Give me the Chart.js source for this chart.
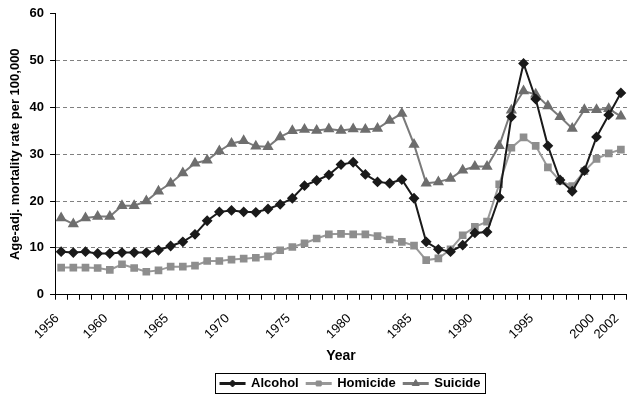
<!DOCTYPE html>
<html>
<head>
<meta charset="utf-8">
<script src="https://cdn.jsdelivr.net/npm/chart.js@4.4.0/dist/chart.umd.min.js"></script>
<style>
  body { margin: 0; background: #fff; }
</style>
</head>
<body>
<canvas id="mortality-chart" width="643" height="404"></canvas>
<script>
/* Data */
let years = [
    '1956', '1957', '1958', '1959', '1960', '1961', '1962', '1963', '1964', '1965',
    '1966', '1967', '1968', '1969', '1970', '1971', '1972', '1973', '1974', '1975',
    '1976', '1977', '1978', '1979', '1980', '1981', '1982', '1983', '1984', '1985',
    '1986', '1987', '1988', '1989', '1990', '1991', '1992', '1993', '1994', '1995',
    '1996', '1997', '1998', '1999', '2000', '2001', '2002'
]

// only these years get a label under the axis
let tickYears = [ '1956', '1960', '1965', '1970', '1975', '1980', '1985', '1990', '1995', '2000', '2002' ]

let alcohol = [
    9.2, 9.0, 9.2, 8.8, 8.8, 9.0, 9.0, 9.0, 9.5, 10.4,
    11.3, 12.9, 15.8, 17.7, 18.0, 17.7, 17.6, 18.3, 19.3, 20.6,
    23.3, 24.4, 25.6, 27.8, 28.3, 25.7, 24.1, 23.8, 24.6, 20.6,
    11.3, 9.7, 9.2, 10.6, 13.2, 13.4, 20.8, 38.0, 49.4, 41.8,
    31.8, 24.5, 22.1, 26.5, 33.7, 38.4, 43.1
]

let homicide = [
    5.8, 5.8, 5.8, 5.7, 5.3, 6.5, 5.7, 4.9, 5.2, 6.0,
    6.0, 6.2, 7.2, 7.2, 7.5, 7.7, 7.9, 8.2, 9.5, 10.2,
    11.0, 12.0, 12.9, 13.0, 12.9, 12.9, 12.5, 11.8, 11.3, 10.5,
    7.4, 7.75, 9.7, 12.7, 14.5, 15.6, 23.6, 31.4, 33.6, 31.8,
    27.2, 24.3, 23.2, 26.4, 29.0, 30.2, 31.0
]

let suicide = [
    16.4, 15.1, 16.4, 16.7, 16.7, 19.0, 19.0, 20.0, 22.1, 23.8,
    26.0, 28.1, 28.7, 30.7, 32.3, 32.9, 31.7, 31.6, 33.7, 35.0,
    35.3, 35.1, 35.4, 35.1, 35.4, 35.3, 35.5, 37.2, 38.7, 32.1,
    23.8, 24.1, 24.8, 26.6, 27.4, 27.4, 31.8, 39.4, 43.5, 42.8,
    40.3, 38.0, 35.5, 39.5, 39.5, 39.7, 38.1
]

let fontFamily = "'Liberation Sans', Arial, sans-serif"

// legend sits under the plot area, not the whole canvas
let legendShift = 29

// moves the legend, draws a marker on each legend line and a box round the legend
let legendExtras = {
    id: 'legendExtras',
    afterLayout(chart) {
        chart.legend.left += legendShift
        chart.legend.right += legendShift
    },
    afterDraw(chart) {
        let ctx = chart.ctx
        let boxes = chart.legend.legendHitBoxes
        if (!boxes || boxes.length == 0) return
        let boxWidth = chart.options.plugins.legend.labels.boxWidth

        boxes.forEach(function(box, i) {
            let ds = chart.data.datasets[i]
            ctx.save()
            ctx.fillStyle = ds.pointBackgroundColor
            ctx.strokeStyle = ds.pointBackgroundColor
            Chart.helpers.drawPoint(ctx, {
                pointStyle: ds.pointStyle,
                radius: ds.pointRadius - 0.5,
                rotation: 0,
                borderWidth: 1
            }, box.left + boxWidth / 2, box.top + box.height / 2)
            ctx.restore()
        })

        let first = boxes[0]
        let last = boxes[boxes.length - 1]
        ctx.save()
        ctx.strokeStyle = '#000'
        ctx.lineWidth = 1
        ctx.strokeRect(Math.round(first.left - 6) + 0.5, Math.round(first.top - 4) + 0.5,
            Math.round(last.left + last.width - first.left + 10), Math.round(first.height + 7))
        ctx.restore()
    }
}

let ctx = document.querySelector('#mortality-chart').getContext('2d')

let mortalityChart = new Chart(ctx, {
    type: 'line',
    data: {
        labels: years,
        datasets: [
            {
                label: 'Alcohol',
                data: alcohol,
                borderColor: '#1a1a1a',
                backgroundColor: '#1a1a1a',
                pointBackgroundColor: '#1a1a1a',
                pointBorderColor: '#1a1a1a',
                pointStyle: 'rectRot',
                pointRadius: 4,
                borderWidth: 2
            },
            {
                label: 'Homicide',
                data: homicide,
                borderColor: '#999999',
                backgroundColor: '#999999',
                pointBackgroundColor: '#8e8e8e',
                pointBorderColor: '#8e8e8e',
                pointStyle: 'rect',
                pointRadius: 4,
                borderWidth: 2
            },
            {
                label: 'Suicide',
                data: suicide,
                borderColor: '#7a7a7a',
                backgroundColor: '#7a7a7a',
                pointBackgroundColor: '#6e6e6e',
                pointBorderColor: '#6e6e6e',
                pointStyle: 'triangle',
                pointRadius: 4.5,
                borderWidth: 2
            }
        ]
    },
    options: {
        responsive: false,
        animation: false,
        layout: { padding: { top: 4, right: 8, bottom: 4, left: 8 } },
        elements: { line: { tension: 0 } },
        scales: {
            x: {
                offset: true,
                // Chart.js keeps too much room for the slanted labels, take some back
                afterFit: function(scale) {
                    scale.height -= 11
                },
                grid: {
                    offset: true,
                    drawOnChartArea: false,
                    drawTicks: true,
                    tickLength: 5,
                    tickColor: '#000'
                },
                border: { color: '#000', width: 1 },
                ticks: {
                    autoSkip: false,
                    minRotation: 45,
                    maxRotation: 45,
                    padding: 11,
                    labelOffset: -4,
                    color: '#000',
                    font: { family: fontFamily, size: 13 },
                    callback: function(value, index) {
                        return tickYears.includes(years[index]) ? years[index] : ''
                    }
                },
                title: {
                    display: true,
                    text: 'Year',
                    color: '#000',
                    padding: { top: 6, bottom: 4 },
                    font: { family: fontFamily, size: 14, weight: 'bold' }
                }
            },
            y: {
                min: 0,
                max: 60,
                grid: {
                    color: function(c) {
                        return (c.tick.value == 0 || c.tick.value == 60) ? 'rgba(0,0,0,0)' : '#808080'
                    },
                    tickColor: '#000',
                    tickLength: 5,
                    tickBorderDash: []
                },
                border: { color: '#000', width: 1, dash: [4, 3] },
                ticks: {
                    stepSize: 10,
                    padding: 6,
                    color: '#000',
                    font: { family: fontFamily, size: 13, weight: 'bold' }
                },
                title: {
                    display: true,
                    text: 'Age-adj. mortality rate per 100,000',
                    color: '#000',
                    padding: { top: 0, bottom: 0 },
                    font: { family: fontFamily, size: 13, weight: 'bold' }
                }
            }
        },
        plugins: {
            legend: {
                position: 'bottom',
                labels: {
                    boxWidth: 24,
                    boxHeight: 1,
                    padding: 8,
                    color: '#000',
                    font: { family: fontFamily, size: 13, weight: 'bold' }
                }
            },
            tooltip: { enabled: false }
        }
    },
    plugins: [ legendExtras ]
})
</script>
</body>
</html>
